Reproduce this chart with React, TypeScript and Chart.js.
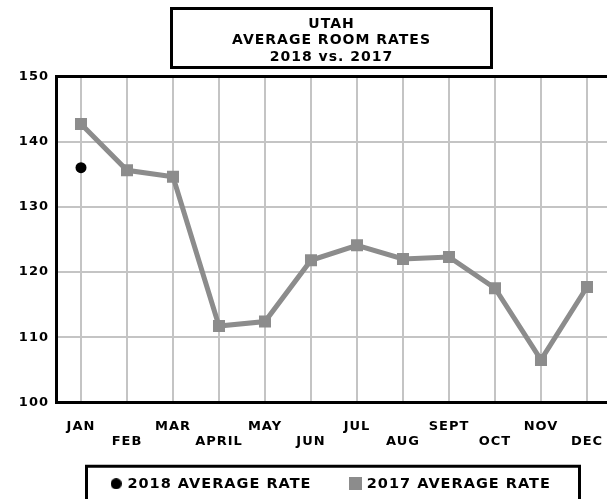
import { useEffect, useRef } from 'react';
import { Chart, registerables } from 'chart.js';

Chart.register(...registerables);

// ---- data ----
const months = ['JAN', 'FEB', 'MAR', 'APRIL', 'MAY', 'JUN', 'JUL', 'AUG', 'SEPT', 'OCT', 'NOV', 'DEC'];
const rates2017 = [142.7, 135.6, 134.6, 111.7, 112.4, 121.8, 124.1, 122.0, 122.3, 117.5, 106.5, 117.7];
const rates2018: (number | null)[] = [136.0, null, null, null, null, null, null, null, null, null, null, null];
const seriesNames = ['2018 AVERAGE RATE', '2017 AVERAGE RATE'];
const titleLines = ['UTAH', 'AVERAGE ROOM RATES', '2018 vs. 2017'];
const yMin = 100;
const yMax = 150;
const yStep = 10;

// ---- styles ----
const FONT = "'DejaVu Sans', 'Liberation Sans', sans-serif";
const GRID = '#c4c4c4';
const LINE = '#8c8c8c';
const BLACK = '#000000';

function makeMarker(kind: 'circle' | 'square', size: number, color: string) {
  const c = document.createElement('canvas');
  c.width = size;
  c.height = size;
  const g = c.getContext('2d')!;
  g.fillStyle = color;
  if (kind === 'circle') {
    g.beginPath();
    g.arc(size / 2, size / 2, size / 2, 0, Math.PI * 2);
    g.fill();
  } else {
    g.fillRect(0, 0, size, size);
  }
  return c;
}

export default function App() {
  const ref = useRef<HTMLCanvasElement>(null);

  useEffect(() => {
    document.body.style.margin = '0';
    const canvas = ref.current!;

    const setSpacing = (c: any) => {
      try {
        (c.ctx as any).letterSpacing = '1px';
      } catch (e) {
        /* ignore */
      }
    };
    const spacing = {
      id: 'spacing',
      beforeUpdate: setSpacing,
      beforeLayout: setSpacing,
      beforeDraw: setSpacing,
    };

    const frames = {
      id: 'frames',
      afterDraw(c: any) {
        const ctx = c.ctx as CanvasRenderingContext2D;
        const t = c.titleBlock;
        const l = c.legend;
        ctx.save();
        ctx.strokeStyle = BLACK;
        ctx.lineWidth = 3;
        if (t) {
          const tcx = (t.left + t.right) / 2;
          ctx.strokeRect(tcx - 160, t.top + 8.5, 320, 59);
        }
        if (l) {
          const lcx = (l.left + l.right) / 2 + 1.5;
          const ly = l.top + l.options.labels.padding + 7.25;
          ctx.strokeRect(lcx - 246.5, ly - 17.5, 493, 60);
        }
        ctx.restore();
      },
    };

    const circleMarker = makeMarker('circle', 11, BLACK);
    const squareMarker = makeMarker('square', 13, LINE);

    const chart = new Chart(canvas, {
      type: 'line',
      data: {
        datasets: [
          {
            label: seriesNames[0],
            data: rates2018.map((v, i) => ({ x: i, y: v as any })),
            showLine: false,
            pointStyle: 'circle',
            pointRadius: 5.5,
            pointHoverRadius: 5.5,
            pointBackgroundColor: BLACK,
            pointBorderWidth: 0,
            borderColor: BLACK,
            backgroundColor: BLACK,
          },
          {
            label: seriesNames[1],
            data: rates2017.map((v, i) => ({ x: i, y: v })),
            borderColor: LINE,
            backgroundColor: LINE,
            borderWidth: 5,
            tension: 0,
            pointStyle: 'rect',
            pointRadius: 8.5,
            pointHoverRadius: 8.5,
            pointBackgroundColor: LINE,
            pointBorderWidth: 0,
          },
        ],
      },
      options: {
        responsive: false,
        animation: false,
        devicePixelRatio: 1,
        events: [],
        layout: { autoPadding: false, padding: { left: 0, right: 0, top: 0, bottom: -2 } },
        scales: {
          x: {
            type: 'linear',
            min: -0.5435,
            max: 11.435,
            afterBuildTicks: (scale: any) => {
              scale.ticks = months.map((_, i) => ({ value: i }));
            },
            afterFit: (scale: any) => {
              scale.height = 34.2;
            },
            ticks: {
              autoSkip: false,
              maxRotation: 0,
              minRotation: 0,
              mirror: true,
              padding: -32.1,
              color: BLACK,
              font: { family: FONT, size: 13, weight: 'bold', lineHeight: 1.125 },
              callback: (_v: any, i: number) => (i % 2 === 0 ? months[i] : ['', months[i]]),
            },
            grid: {
              color: GRID,
              lineWidth: 2,
              drawTicks: false,
              z: -2,
            },
            border: { display: true, color: BLACK, width: 3 },
          },
          y: {
            type: 'linear',
            min: yMin,
            max: yMax,
            afterFit: (scale: any) => {
              scale.width = 56;
            },
            ticks: {
              stepSize: yStep,
              padding: 7,
              color: BLACK,
              font: { family: FONT, size: 13, weight: 'bold' },
            },
            grid: {
              color: (ctx: any) => (ctx.tick && ctx.tick.value === yMax ? BLACK : GRID),
              lineWidth: (ctx: any) => (ctx.tick && ctx.tick.value === yMax ? 3 : 2),
              drawTicks: false,
              z: -1,
            },
            border: { display: true, color: BLACK, width: 3 },
          },
        },
        plugins: {
          title: {
            display: true,
            text: titleLines,
            fullSize: false,
            color: BLACK,
            font: { family: FONT, size: 14, weight: 'bold', lineHeight: 16.7 / 14 },
            padding: { top: 15.6, bottom: 10.8 },
          },
          legend: {
            display: true,
            position: 'bottom',
            fullSize: false,
            labels: {
              usePointStyle: true,
              boxWidth: 8,
              boxHeight: 14,
              padding: 40,
              color: BLACK,
              font: { family: FONT, size: 14.5, weight: 'bold' },
              generateLabels: (c: any) => {
                const items = Chart.defaults.plugins.legend.labels.generateLabels(c);
                return items.map((it: any, i: number) => ({
                  ...it,
                  pointStyle: i === 0 ? circleMarker : squareMarker,
                  fontColor: BLACK,
                }));
              },
            },
          },
          tooltip: { enabled: false },
        },
      } as any,
      plugins: [spacing, frames],
    });

    return () => chart.destroy();
  }, []);

  return (
    <div style={{ width: 607, height: 499, overflow: 'hidden' }}>
      <canvas ref={ref} width={607} height={499} style={{ display: 'block', width: 607, height: 499 }} />
    </div>
  );
}
